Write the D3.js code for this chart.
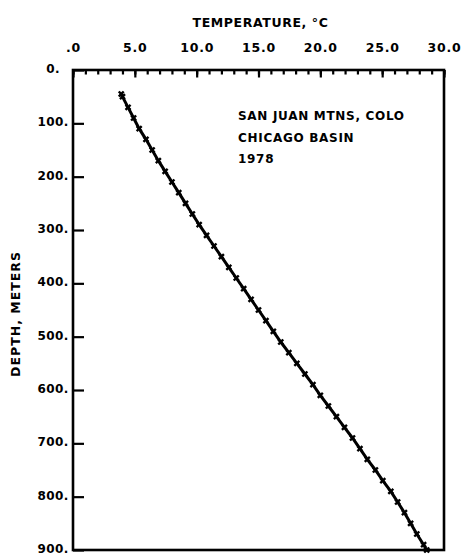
<!DOCTYPE html>
<html>
<head>
<meta charset="utf-8">
<script src="https://cdn.jsdelivr.net/npm/d3@7"></script>
<style>
  html, body { margin: 0; padding: 0; background: #fff; }
  svg { display: block; }
  text { font-family: "DejaVu Sans", sans-serif; font-weight: bold; fill: #000; }
</style>
</head>
<body>
<svg id="chart" width="462" height="555"></svg>
<script>
// Temperature profile of a borehole, Chicago Basin, San Juan Mountains
const depthM = [45, 50, 70, 90, 110, 130, 150, 170, 190, 210, 230, 250, 270, 290,
  310, 330, 350, 370, 390, 410, 430, 450, 470, 490, 510, 530, 550, 570, 590,
  610, 630, 650, 670, 690, 710, 730, 750, 770, 790, 810, 830, 850, 870, 890, 900];
const tempC = [3.9, 4.0, 4.45, 4.9, 5.35, 5.9, 6.4, 6.9, 7.45, 8.0, 8.55, 9.1, 9.65, 10.2,
  10.8, 11.4, 12.0, 12.6, 13.2, 13.8, 14.4, 15.0, 15.6, 16.2, 16.8, 17.45, 18.1, 18.75, 19.4,
  20.0, 20.65, 21.3, 21.95, 22.6, 23.2, 23.8, 24.45, 25.05, 25.7, 26.25, 26.8, 27.3, 27.8, 28.35, 28.6];

const tempTicks = [0, 5, 10, 15, 20, 25, 30];
const tempMinorTicks = d3.range(0, 31, 1);
const depthTicks = [0, 100, 200, 300, 400, 500, 600, 700, 800, 900];
const noteLines = ["SAN JUAN MTNS, COLO", "CHICAGO BASIN", "1978"];

const svg = d3.select("#chart");
const plot = { left: 73, right: 444, top: 70, bottom: 550 };

const x = d3.scaleLinear().domain([0, 30]).range([plot.left, plot.right]);
const y = d3.scaleLinear().domain([0, 900]).range([plot.top, plot.bottom]);

const FONT = "'DejaVu Sans', sans-serif";

// frame
svg.append("rect")
  .attr("x", plot.left).attr("y", plot.top)
  .attr("width", plot.right - plot.left).attr("height", plot.bottom - plot.top)
  .attr("fill", "none").attr("stroke", "#000").attr("stroke-width", 2.6);

// top axis: minor ticks every degree
svg.append("g")
  .attr("transform", `translate(0,${plot.top})`)
  .call(d3.axisTop(x).tickValues(tempMinorTicks).tickSize(-4.5).tickFormat(""))
  .call(g => g.select(".domain").remove())
  .call(g => g.selectAll("line").attr("stroke", "#000").attr("stroke-width", 2.2));

// top axis: major ticks and labels
const fmtT = v => v === 0 ? ".0" : d3.format(".1f")(v);
svg.append("g")
  .attr("transform", `translate(0,${plot.top})`)
  .call(d3.axisTop(x).tickValues(tempTicks).tickSize(-7.5).tickPadding(18).tickFormat(fmtT))
  .call(g => g.select(".domain").remove())
  .call(g => g.selectAll("line").attr("stroke", "#000").attr("stroke-width", 2.2))
  .call(g => g.selectAll("text").attr("font-size", 12.5).attr("fill", "#000")
    .style("font-family", FONT).style("font-weight", "bold").style("letter-spacing", "0.8px"));

// left axis
svg.append("g")
  .attr("transform", `translate(${plot.left},0)`)
  .call(d3.axisLeft(y).tickValues(depthTicks).tickSize(-11).tickFormat(d => d + "."))
  .call(g => g.select(".domain").remove())
  .call(g => g.selectAll("line").attr("stroke", "#000").attr("stroke-width", 2.2))
  .call(g => g.selectAll("text").attr("font-size", 12).attr("fill", "#000")
    .attr("text-anchor", "middle").attr("x", -20).attr("dy", "0.2em")
    .style("font-family", FONT).style("font-weight", "bold").style("letter-spacing", "0.4px"));

// axis titles
svg.append("text")
  .attr("x", (plot.left + plot.right) / 2 + 2).attr("y", 27)
  .attr("text-anchor", "middle").attr("font-size", 12.5)
  .style("letter-spacing", "0.6px")
  .text("TEMPERATURE, °C");

svg.append("text")
  .attr("transform", `translate(20,${(plot.top + plot.bottom) / 2 + 4}) rotate(-90)`)
  .attr("text-anchor", "middle").attr("font-size", 12.5)
  .style("letter-spacing", "1px")
  .text("DEPTH, METERS");

// site note
svg.append("g").selectAll("text")
  .data(noteLines).join("text")
  .attr("x", 238).attr("y", (d, i) => 120 + i * 21.5)
  .attr("font-size", 12)
  .style("letter-spacing", "0.7px")
  .text(d => d);

// temperature profile
const pts = depthM.map((d, i) => [tempC[i], d]);
svg.append("path")
  .datum(pts)
  .attr("fill", "none").attr("stroke", "#000").attr("stroke-width", 3)
  .attr("d", d3.line().x(p => x(p[0])).y(p => y(p[1])));

svg.append("g").selectAll("path")
  .data(pts).join("path")
  .attr("transform", p => `translate(${x(p[0])},${y(p[1])}) rotate(45)`)
  .attr("d", d3.symbol(d3.symbolCross, 28))
  .attr("fill", "#000");
</script>
</body>
</html>
